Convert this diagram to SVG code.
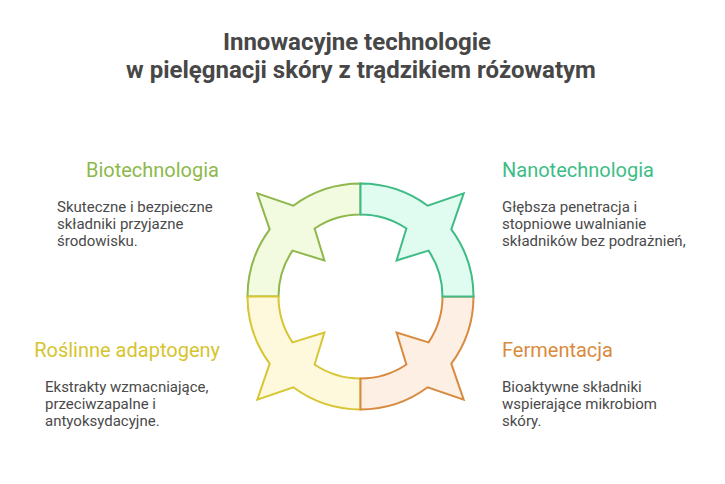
<svg xmlns="http://www.w3.org/2000/svg" xmlns:xlink="http://www.w3.org/1999/xlink" width="725" height="484" viewBox="0 0 725 484">
<style>
.title{font-family:Roboto,"Liberation Sans",sans-serif;font-weight:bold;font-size:24px;fill:#474747;text-anchor:middle}
.label{font-family:Roboto,"Liberation Sans",sans-serif;font-size:20px}
.body{font-family:Roboto,"Liberation Sans",sans-serif;font-size:15px;fill:#4a4a4a}
.seg{stroke-width:2;stroke-linejoin:miter}
.bio{fill:#f2fbe0;stroke:#8fb74c}
.nano{fill:#e0fbef;stroke:#3fbc86}
.ferm{fill:#fdefe4;stroke:#d88a3e}
.ros{fill:#fef9dc;stroke:#d7c634}
</style>
<defs>
<path id="quad" d="M 360.5,183.5 A 113 113 0 0 0 293.3,205.7 L 257.3,193.3 L 269.7,229.3 A 113 113 0 0 0 247.5,296.5 L 278.5,296.5 A 82 82 0 0 1 292.5,250.6 L 324.4,260.4 L 314.6,228.5 A 82 82 0 0 1 360.5,214.5 Z"/>
</defs>
<rect width="725" height="484" fill="#ffffff"/>
<g id="title">
<text class="title" x="357" y="50">Innowacyjne technologie</text>
<text class="title" x="361" y="78">w pielęgnacji skóry z trądzikiem różowatym</text>
</g>
<g id="connectors"></g>
<g id="biotechnologia">
<use xlink:href="#quad" href="#quad" class="seg bio"/>
<text class="label" x="219" y="177" text-anchor="end" fill="#8db84a">Biotechnologia</text>
<text class="body" x="57" y="212">Skuteczne i bezpieczne</text>
<text class="body" x="57" y="229">składniki przyjazne</text>
<text class="body" x="57" y="246">środowisku.</text>
</g>
<g id="rosliinne-adaptogeny">
<use xlink:href="#quad" href="#quad" class="seg ros" transform="rotate(270 360.5 296.5)"/>
<text class="label" x="220" y="357" text-anchor="end" fill="#d6c42e">Roślinne adaptogeny</text>
<text class="body" x="45" y="392">Ekstrakty wzmacniające,</text>
<text class="body" x="45" y="409">przeciwzapalne i</text>
<text class="body" x="45" y="426">antyoksydacyjne.</text>
</g>
<g id="fermentacja">
<use xlink:href="#quad" href="#quad" class="seg ferm" transform="rotate(180 360.5 296.5)"/>
<text class="label" x="502" y="357" fill="#d98b3d">Fermentacja</text>
<text class="body" x="502" y="392">Bioaktywne składniki</text>
<text class="body" x="502" y="409">wspierające mikrobiom</text>
<text class="body" x="502" y="426">skóry.</text>
</g>
<g id="nanotechnologia">
<use xlink:href="#quad" href="#quad" class="seg nano" transform="rotate(90 360.5 296.5)"/>
<text class="label" x="502" y="177" fill="#3dbd85">Nanotechnologia</text>
<text class="body" x="502" y="212">Głębsza penetracja i</text>
<text class="body" x="502" y="229">stopniowe uwalnianie</text>
<text class="body" x="502" y="246">składników bez podrażnień,</text>
</g>
</svg>
